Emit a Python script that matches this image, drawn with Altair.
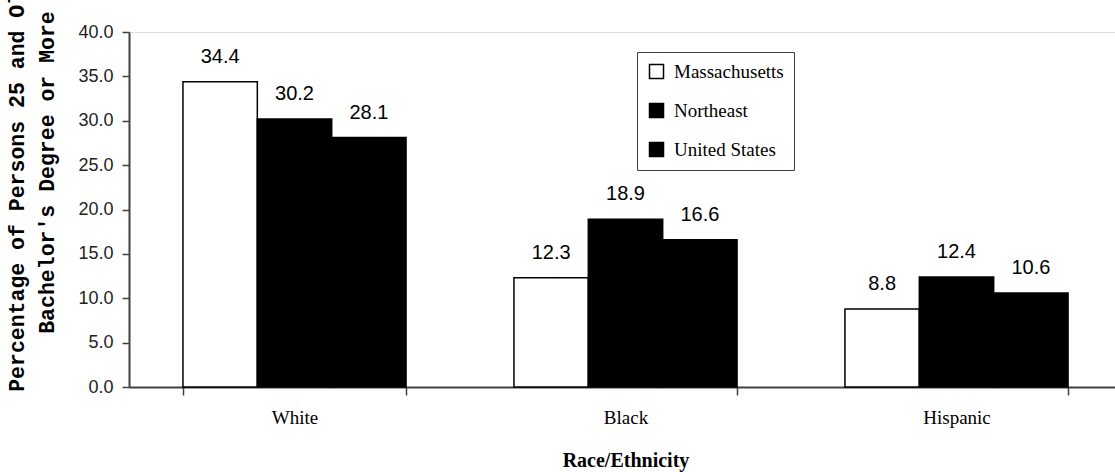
import altair as alt
import pandas as pd

# Share of persons 25+ holding a bachelor's degree or more, by race/ethnicity
groups = ["White", "Black", "Hispanic"]
regions = ["Massachusetts", "Northeast", "United States"]
massachusetts = [34.4, 12.3, 8.8]
northeast = [30.2, 18.9, 12.4]
united_states = [28.1, 16.6, 10.6]
y_ticks = [0, 5, 10, 15, 20, 25, 30, 35, 40]

series = [massachusetts, northeast, united_states]
records = [
    {"group": g, "region": r, "pct": vals[i]}
    for i, g in enumerate(groups)
    for r, vals in zip(regions, series)
]
df = pd.DataFrame(records)

x_enc = alt.X(
    "group:N",
    sort=groups,
    title="Race/Ethnicity",
    scale=alt.Scale(range=[0, 993], paddingInner=0.326, paddingOuter=0.163),
    axis=alt.Axis(
        labelAngle=0,
        labelFont="Liberation Serif",
        labelFontSize=19,
        labelColor="black",
        labelPadding=13,
        tickSize=8,
        tickBand="extent",
        tickColor="#404040",
        tickWidth=1.5,
        domainColor="#404040",
        domainWidth=2,
        titleFont="Liberation Serif",
        titleFontWeight="bold",
        titleFontSize=20,
        titleColor="black",
        titleY=79,
        titleBaseline="alphabetic",
    ),
)
xoff_enc = alt.XOffset(
    "region:N", sort=regions, scale=alt.Scale(paddingInner=0, paddingOuter=0)
)
y_enc = alt.Y(
    "pct:Q",
    title=["Percentage of Persons 25 and Older", "Bachelor's Degree or More"],
    scale=alt.Scale(domain=[0, 40], nice=False),
    axis=alt.Axis(
        values=y_ticks,
        format=".1f",
        grid=False,
        labelFont="Liberation Sans",
        labelFontSize=18,
        labelColor="#222222",
        labelPadding=9,
        tickSize=7,
        tickColor="#404040",
        tickWidth=1.5,
        domainColor="#404040",
        domainWidth=2,
        titleFont="Liberation Mono",
        titleFontWeight="bold",
        titleFontSize=21.5,
        titleColor="black",
        titleLineHeight=30,
        titleAngle=270,
        titleAlign="center",
        titleBaseline="middle",
        titleX=-112,
        titleY=140,
    ),
)

bars = alt.Chart(df).mark_bar(stroke="black", strokeWidth=1.5).encode(
    x=x_enc,
    xOffset=xoff_enc,
    y=y_enc,
    fill=alt.Fill(
        "region:N",
        sort=regions,
        title=None,
        scale=alt.Scale(domain=regions, range=["white", "black", "black"]),
        legend=alt.Legend(
            orient="none",
            legendX=508,
            legendY=20,
            strokeColor="#404040",
            padding=10,
            symbolType="square",
            symbolSize=196,
            symbolStrokeColor="black",
            symbolStrokeWidth=1.5,
            labelFont="Liberation Serif",
            labelFontSize=19,
            labelColor="black",
            labelOffset=8,
            rowPadding=18,
        ),
    ),
)

labels = alt.Chart(df).mark_text(
    font="Liberation Sans", fontSize=20, dy=-19, baseline="alphabetic", color="black"
).encode(
    x=x_enc,
    xOffset=xoff_enc,
    y=y_enc,
    text=alt.Text("pct:Q", format=".1f"),
)

chart = (
    alt.layer(bars, labels)
    .properties(
        width=986,
        height=355,
        padding={"left": 129, "top": 32, "right": 0, "bottom": 85},
        autosize=alt.AutoSizeParams(type="none"),
    )
    .configure_view(stroke=None)
    .configure(background="white")
)

chart.save("out.html", embed_options={"renderer": "svg", "actions": False})
